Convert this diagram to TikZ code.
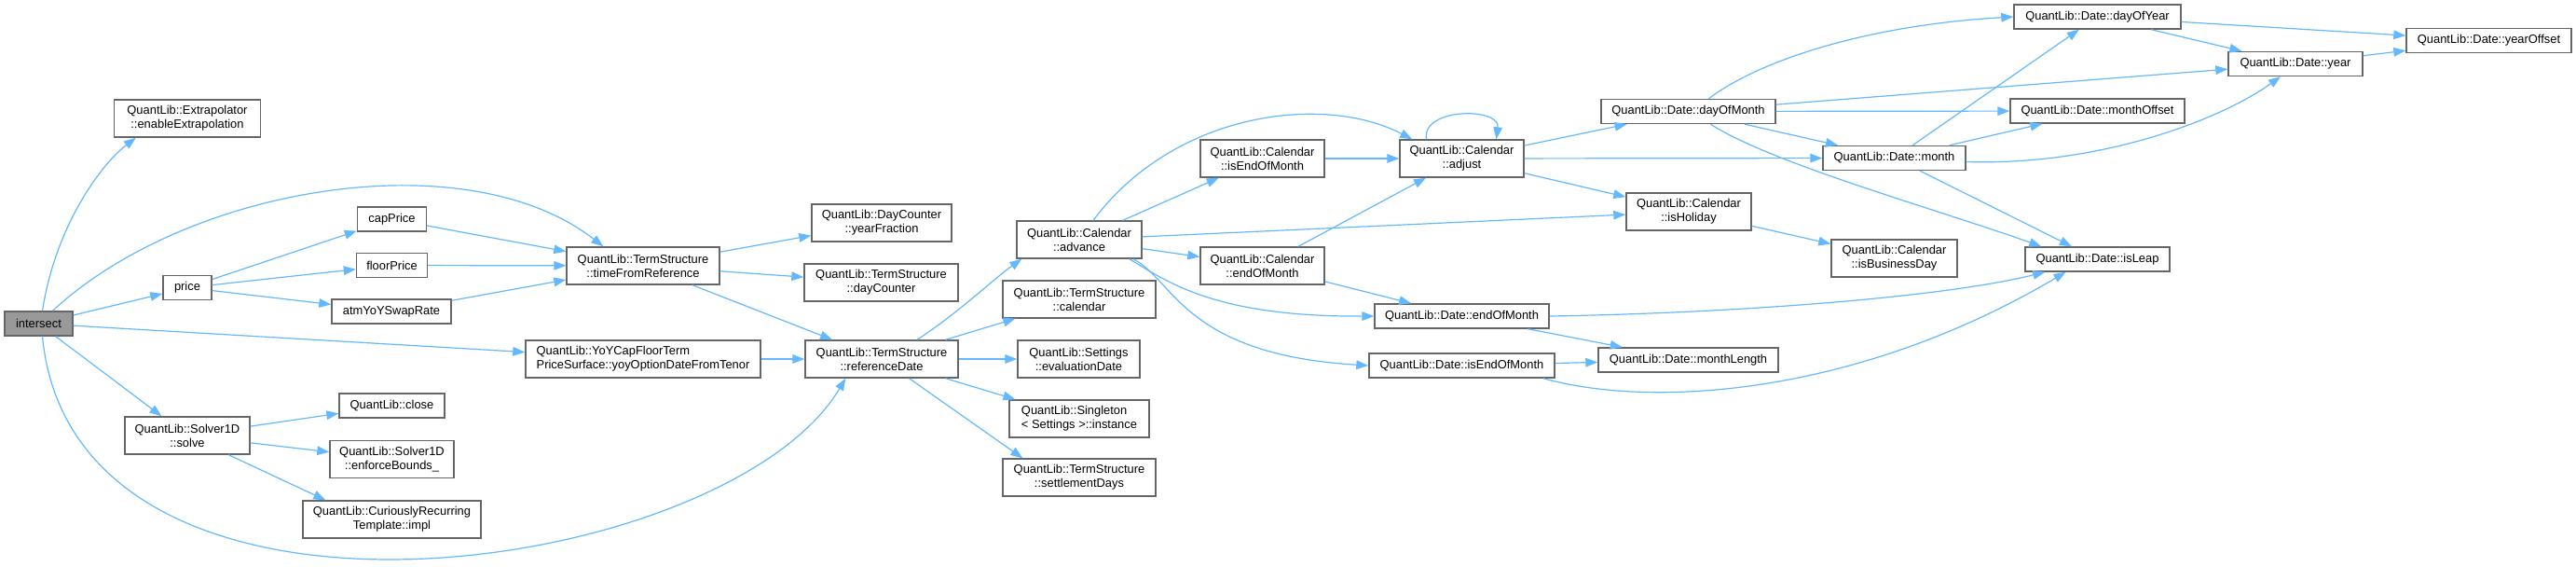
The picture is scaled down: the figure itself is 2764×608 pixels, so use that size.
\documentclass[tikz,border=0pt]{standalone}
\usepackage{fontspec}
\setmainfont{Liberation Sans}
\usetikzlibrary{arrows.meta,calc}
\definecolor{gInk}{HTML}{000000}
\definecolor{gEdge}{HTML}{63B8FF}
\definecolor{gFrame}{HTML}{666666}
\definecolor{gRoot}{HTML}{999999}

\begin{document}
\begin{tikzpicture}[
  x=0.5pt, y=-0.5pt,
  font=\fontsize{6.45}{7.5}\selectfont, text=gInk,
  >={Triangle[length=6.5pt, width=4.8pt]},
  fn/.style={rectangle, draw=gFrame, fill=white, line width=0.7pt,
             minimum height=13pt, inner sep=0pt, align=center},
  fntwo/.style={fn, minimum height=20pt},
  call/.style={->, draw=gEdge, line width=0.6pt},
]
\useasboundingbox (0,0) rectangle (2764,608);

% caller and first level
\node[fn, fill=gRoot, minimum width=36.5pt] (isect) at (41.5,347) {intersect};
\node[fntwo, minimum width=78.5pt] (extrap) at (201,127) {QuantLib::Extrapolator\\::enableExtrapolation};
\node[fn, minimum width=26pt] (price) at (201,308.5) {price};
\node[fntwo, minimum width=67pt] (solve) at (201,467) {QuantLib::Solver1D\\::solve};

% second level
\node[fn, minimum width=37pt] (capP) at (420.5,235) {capPrice};
\node[fn, minimum width=38pt] (floorP) at (420.5,284.5) {floorPrice};
\node[fn, minimum width=64pt] (atm) at (420,334) {atmYoYSwapRate};
\node[fn, minimum width=56.5pt] (close) at (420.5,435) {QuantLib::close};
\node[fntwo, minimum width=66.5pt] (bounds) at (420.5,492.5) {QuantLib::Solver1D\\::enforceBounds\_};
\node[fntwo, minimum width=95.5pt] (crtp) at (420.5,557) {QuantLib::CuriouslyRecurring\\Template::impl};

% term structure
\node[fntwo, minimum width=82pt] (tfr) at (690,285) {QuantLib::TermStructure\\::timeFromReference};
\node[fntwo, minimum width=126pt, align=left] (yoy) at (690,385) {QuantLib::YoYCapFloorTerm\\PriceSurface::yoyOptionDateFromTenor};
\node[fntwo, minimum width=75pt] (yfrac) at (946,239) {QuantLib::DayCounter\\::yearFraction};
\node[fntwo, minimum width=82.5pt] (dcount) at (945.5,303) {QuantLib::TermStructure\\::dayCounter};
\node[fntwo, minimum width=82pt] (refdate) at (946,385) {QuantLib::TermStructure\\::referenceDate};
\node[fntwo, minimum width=67pt] (advance) at (1158,257) {QuantLib::Calendar\\::advance};
\node[fntwo, minimum width=82pt] (tscal) at (1158,321) {QuantLib::TermStructure\\::calendar};
\node[fntwo, minimum width=65.5pt] (evaldate) at (1157.5,385) {QuantLib::Settings\\::evaluationDate};
\node[fntwo, minimum width=75pt, align=left] (single) at (1158,449) {QuantLib::Singleton\\< Settings >::instance};
\node[fntwo, minimum width=82pt] (settle) at (1158,512) {QuantLib::TermStructure\\::settlementDays};

% calendar
\node[fntwo, minimum width=66.5pt] (calieom) at (1354.5,170) {QuantLib::Calendar\\::isEndOfMonth};
\node[fntwo, minimum width=66.5pt] (caleom) at (1354.5,285) {QuantLib::Calendar\\::endOfMonth};
\node[fntwo, minimum width=66.5pt] (adjust) at (1568.5,170) {QuantLib::Calendar\\::adjust};
\node[fntwo, minimum width=67pt] (holiday) at (1812,227) {QuantLib::Calendar\\::isHoliday};
\node[fntwo, minimum width=67.5pt] (busday) at (2032.5,277) {QuantLib::Calendar\\::isBusinessDay};

% date
\node[fn, minimum width=93.5pt] (deom) at (1568.5,339) {QuantLib::Date::endOfMonth};
\node[fn, minimum width=99.5pt] (dieom) at (1568.5,392) {QuantLib::Date::isEndOfMonth};
\node[fn, minimum width=93.5pt] (dom) at (1811.5,119.5) {QuantLib::Date::dayOfMonth};
\node[fn, minimum width=96.5pt] (mlen) at (1811.5,386) {QuantLib::Date::monthLength};
\node[fn, minimum width=76.5pt] (month) at (2032.5,169.5) {QuantLib::Date::month};
\node[fn, minimum width=89.5pt] (doy) at (2250.5,18) {QuantLib::Date::dayOfYear};
\node[fn, minimum width=93.5pt] (moff) at (2250.5,119) {QuantLib::Date::monthOffset};
\node[fn, minimum width=77.5pt] (leap) at (2250.5,278) {QuantLib::Date::isLeap};
\node[fn, minimum width=72pt] (year) at (2463,68.5) {QuantLib::Date::year};
\node[fn, minimum width=88.5pt] (yoff) at (2670.5,43.5) {QuantLib::Date::yearOffset};

% calls from intersect
\draw[call] ($(isect.north)+(4,0)$) .. controls (60,240) and (110,175) .. ($(extrap.south west)+(24,0)$);
\draw[call] ($(isect.north)+(15,0)$) .. controls (200,200) and (500,150) .. ($(tfr.north west)+(40,0)$);
\draw[call] (isect) -- (price);
\draw[call] (isect) -- (yoy);
\draw[call] (isect) -- (solve);
\draw[call] ($(isect.south)+(4,0)$) .. controls (80,720) and (780,620) .. ($(refdate.south west)+(44,0)$);

% price and solver
\draw[call] (price) -- (capP);
\draw[call] (price) -- (floorP);
\draw[call] (price) -- (atm);
\draw[call] (capP) -- (tfr);
\draw[call] (floorP) -- (tfr);
\draw[call] (atm) -- (tfr);
\draw[call] (solve) -- (close);
\draw[call] (solve) -- (bounds);
\draw[call] (solve) -- ($(crtp.north west)+(25,0)$);

% term structure
\draw[call] (tfr) -- (yfrac);
\draw[call] (tfr) -- (dcount);
\draw[call] (tfr) -- (refdate);
\draw[call] (yoy) -- (refdate);
\draw[call] ($(refdate.north)+(38,0)$) .. controls (1029,335) and (1065,300) .. ($(advance.south west)+(6,0)$);
\draw[call] (refdate) -- (tscal);
\draw[call] (refdate) -- (evaldate);
\draw[call] (refdate) -- (single);
\draw[call] (refdate) -- ($(settle.north west)+(22,0)$);

% calendar
\draw[call] ($(advance.north)+(15,0)$) .. controls (1260,120) and (1420,100) .. ($(adjust.north west)+(14,0)$);
\draw[call] (advance) -- (calieom);
\draw[call] (advance) -- (holiday);
\draw[call] (advance) -- (caleom);
\draw[call] ($(advance.south east)+(-14,0)$) .. controls (1250,300) and (1300,340) .. (deom.west);
\draw[call] ($(advance.south east)+(-10,0)$) .. controls (1260,300) and (1270,380) .. (dieom.west);
\draw[call] (calieom) -- (adjust);
\draw[call] (caleom) -- (adjust);
\draw[call] (caleom) -- (deom);
\draw[call] ($(adjust.north)+(-38,0)$) .. controls (1525,115) and (1610,115) .. ($(adjust.north)+(37,0)$);
\draw[call] (adjust) -- (dom);
\draw[call] (adjust) -- (month);
\draw[call] (adjust) -- (holiday);
\draw[call] (holiday) -- (busday);

% date
\draw[call] ($(dom.north)+(22,0)$) .. controls (1880,70) and (1990,28) .. (doy.west);
\draw[call] (dom) -- (year);
\draw[call] (dom) -- (moff);
\draw[call] (dom) -- (month);
\draw[call] ($(dom.south)+(24,0)$) .. controls (1900,175) and (2080,225) .. ($(leap.north west)+(18,0)$);
\draw[call] (month) -- (doy);
\draw[call] (month) -- (moff);
\draw[call] ($(month.east)+(0,4)$) .. controls (2250,178) and (2380,130) .. ($(year.south)+(-16,0)$);
\draw[call] (month) -- (leap);
\draw[call] (doy) -- (yoff);
\draw[call] (doy) -- (year);
\draw[call] (year) -- (yoff);
\draw[call] (deom) -- (mlen);
\draw[call] (dieom) -- (mlen);
\draw[call] (deom.east) .. controls (1850,336) and (2080,320) .. ($(leap.south west)+(22,0)$);
\draw[call] ($(dieom.south east)+(-13,0)$) .. controls (1780,440) and (2000,420) .. ($(leap.south)+(-34,0)$);

\end{tikzpicture}
\end{document}
